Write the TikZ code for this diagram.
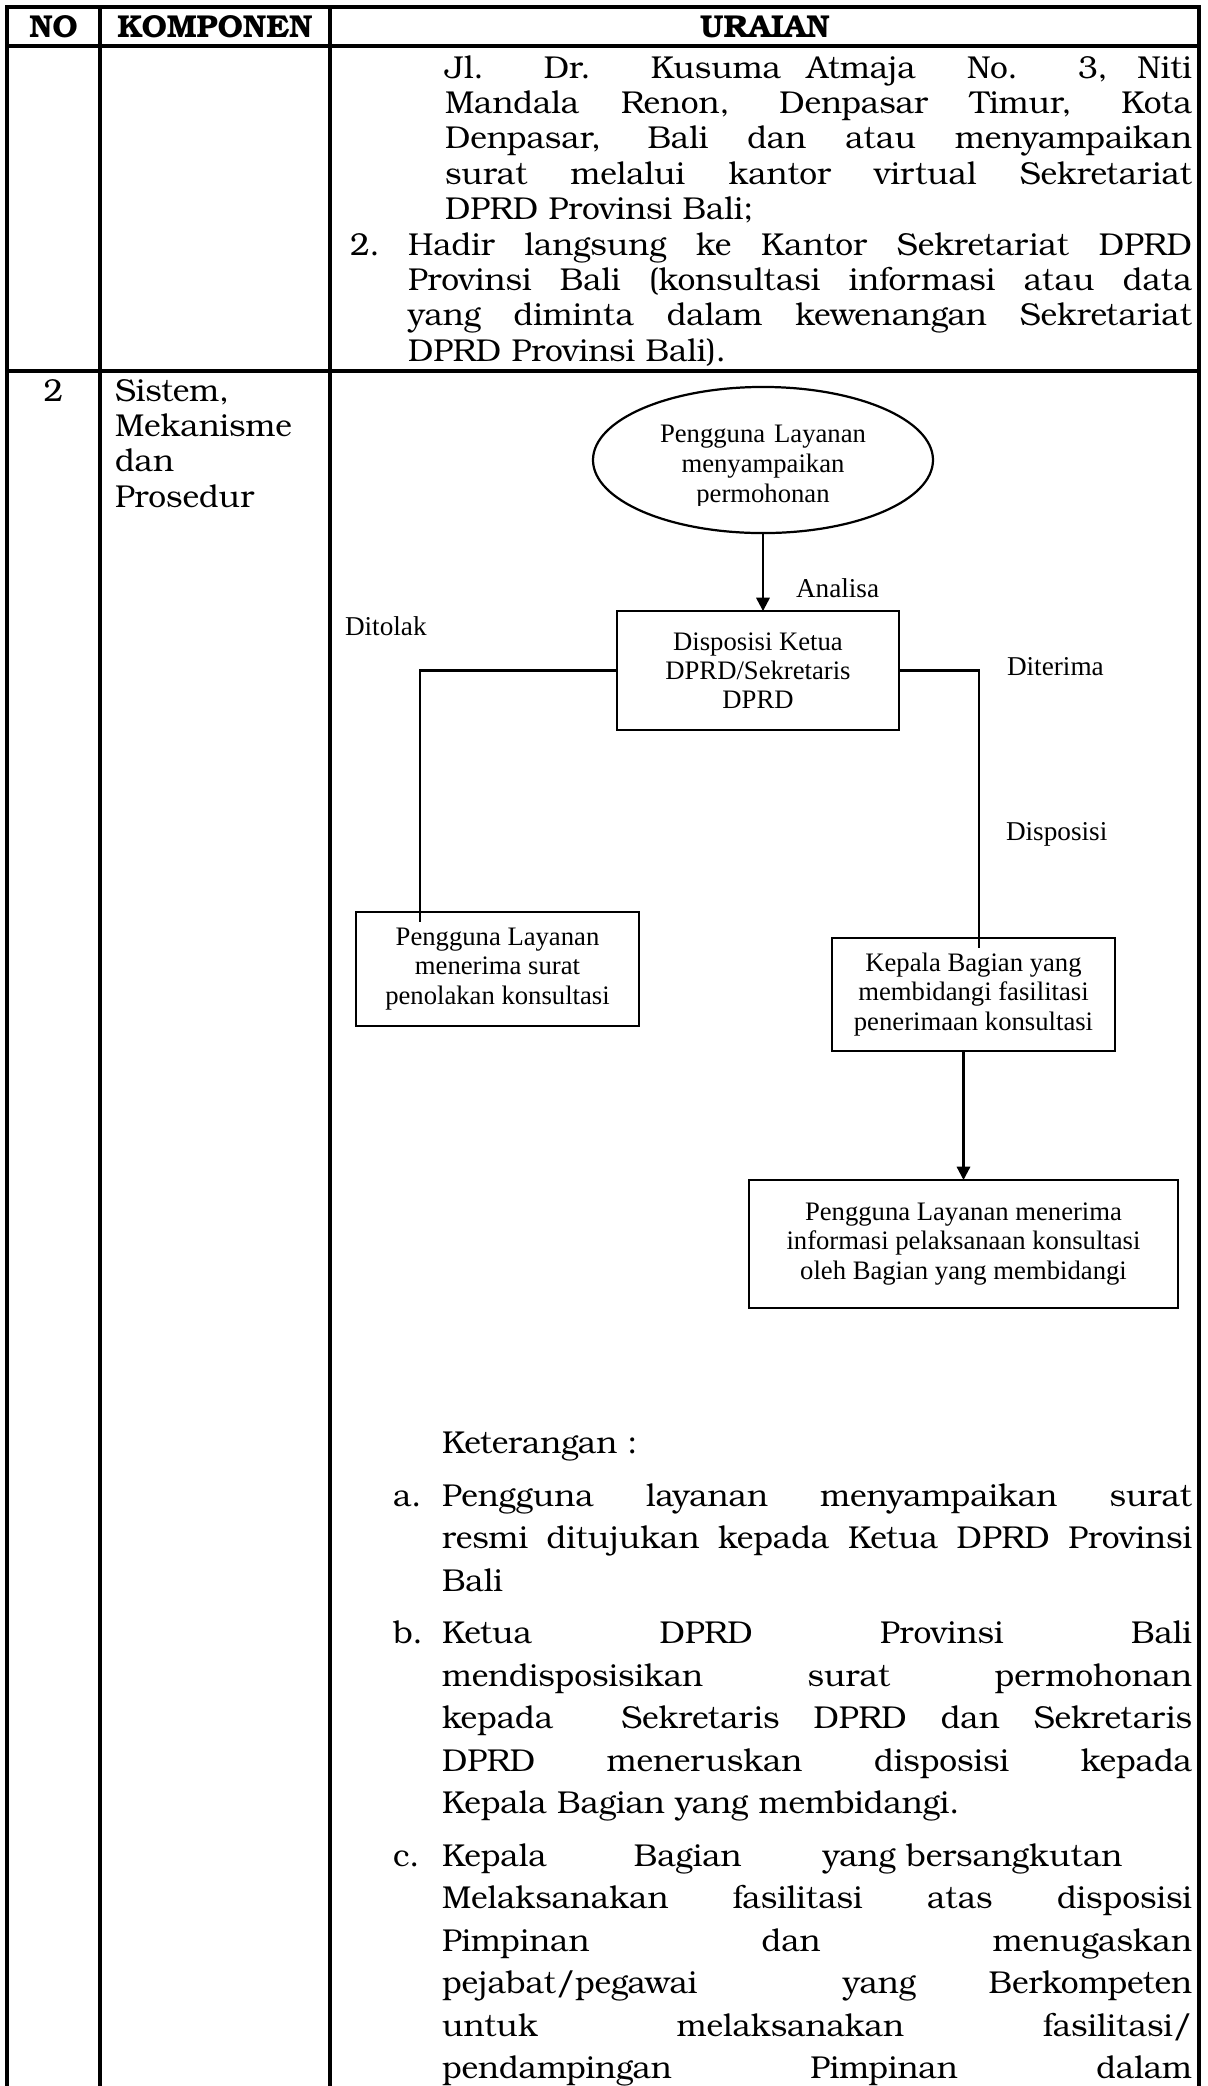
\documentclass[tikz,border=0pt]{standalone}
\usepackage{fontspec}
\setmainfont{TeX Gyre Bonum}
\newfontfamily\timesfont{Liberation Serif}
\usetikzlibrary{shapes.geometric,arrows.meta}
\newcommand{\justline}[1]{\makebox[\hsize][s]{\spaceskip=0pt\xspaceskip=0pt #1}}

\begin{document}
\begin{tikzpicture}[x=0.36pt,y=-0.36pt]
    \tikzstyle{every node}=[inner sep=0pt, outer sep=0pt]
    \tikzstyle{tbl}=[line width=1.1pt]
    \tikzstyle{head}=[anchor=base, font=\fontsize{11.4}{12.74}\bfseries]
    \tikzstyle{body}=[anchor=base west, align=left, font=\fontsize{11.4}{12.74}\selectfont]
    \tikzstyle{ket}=[anchor=base west, align=left, font=\fontsize{11.4}{15.3}\selectfont]
    \tikzstyle{flow}=[align=center, font=\timesfont\fontsize{9.6}{10.5}\selectfont]
    \tikzstyle{box}=[flow, draw, line width=0.8pt]
    \tikzstyle{lbl}=[anchor=base west, font=\timesfont\fontsize{9.8}{10.5}\selectfont]
    \tikzstyle{line}=[line width=0.8pt]
    \tikzstyle{arr}=[line width=0.8pt, -{Triangle[length=4.8pt,width=4.8pt]}]

    \useasboundingbox (0,0) rectangle (1207,2086);

    \draw[tbl] (7,2086) -- (7,7) -- (1199,7) -- (1199,2086);
    \draw[tbl] (100,7) -- (100,2086);
    \draw[tbl] (330,7) -- (330,2086);
    \draw[tbl] (7,46) -- (1199,46);
    \draw[tbl] (7,371) -- (1199,371);

    \node[head] (no) at (53.5,37) {NO};
    \node[head] (komp) at (215,37) {KOMPONEN};
    \node[head] (uraian) at (765,37) {URAIAN};

    \node[body, text width=268.9pt] (alamat) at (445,78) {\justline{Jl. Dr. Kusuma Atmaja\ \ No. 3, Niti}\\
        \justline{Mandala Renon, Denpasar Timur, Kota}\\
        \justline{Denpasar, Bali dan atau menyampaikan}\\
        \justline{surat melalui kantor virtual Sekretariat}\\
        DPRD Provinsi Bali;};
    \node[body] (n2) at (350,255) {2.};
    \node[body, text width=282.2pt] (hadir) at (408,255) {\justline{Hadir langsung ke Kantor Sekretariat DPRD}\\
        \justline{Provinsi Bali (konsultasi informasi atau data}\\
        \justline{yang diminta dalam kewenangan Sekretariat}\\
        DPRD Provinsi Bali).};

    \node[body, anchor=base] (no2) at (53.5,401) {2};
    \node[body, text width=80pt] (komp2) at (115,401) {Sistem,\\Mekanisme\\dan\\Prosedur};

    \node[box, ellipse, minimum width=122.4pt, minimum height=52.6pt] (mohon) at (763,460) {};
    \begin{scope}
        \clip (590,380) rectangle (940,505);
        \node[flow, anchor=base, text width=110pt, font=\timesfont\fontsize{9.6}{10.8}\selectfont] (mohontxt) at (763,442) {Pengguna Layanan\\menyampaikan\\permohonan};
    \end{scope}
    \node[box, minimum width=101.5pt, minimum height=42.8pt] (disp) at (758,670.5) {Disposisi Ketua\\DPRD/Sekretaris\\DPRD};
    \node[box, minimum width=101.9pt, minimum height=41pt] (tolak) at (497.5,969) {Pengguna Layanan\\menerima surat\\penolakan konsultasi};
    \node[box, minimum width=101.9pt, minimum height=40.7pt] (kabag) at (973.5,994.5) {Kepala Bagian yang\\membidangi fasilitasi\\penerimaan konsultasi};
    \node[box, minimum width=154.4pt, minimum height=46.1pt] (info) at (963.5,1244) {Pengguna Layanan menerima\\informasi pelaksanaan konsultasi\\oleh Bagian yang membidangi};

    \node[lbl] (analisa) at (796,597) {Analisa};
    \node[lbl] (ditolak) at (345,635) {Ditolak};
    \node[lbl] (diterima) at (1007,675) {Diterima};
    \node[lbl] (disposisi) at (1006,840) {Disposisi};

    \coordinate (tolakend) at (420,922);
    \coordinate (terimaend) at (979,948);

    \draw[arr] (mohon.south) -- (mohon.south |- disp.north);
    \draw[line] (disp.west) -| (tolakend);
    \draw[line] (disp.east) -| (terimaend);
    \draw[arr] (kabag.south -| info.north) -- (info.north);

    \node[ket] (ket) at (442,1453) {Keterangan :};
    \node[ket] (la) at (393,1506) {a.};
    \node[ket, text width=270pt] (ka) at (442,1506) {\justline{Pengguna layanan menyampaikan surat}\\
        \justline{resmi ditujukan kepada Ketua DPRD Provinsi}\\
        Bali};
    \node[ket] (lb) at (393,1643.5) {b.};
    \node[ket, text width=270pt] (kb) at (442,1643.5) {\justline{Ketua DPRD Provinsi Bali}\\
        \justline{mendisposisikan surat permohonan}\\
        \justline{kepada\ \ Sekretaris DPRD dan Sekretaris}\\
        \justline{DPRD meneruskan disposisi kepada}\\
        Kepala Bagian yang membidangi.};
    \node[ket] (lc) at (393,1866) {c.};
    \node[ket, text width=270pt] (kc) at (442,1866) {\makebox[69.1pt][l]{Kepala}\makebox[68pt][l]{Bagian}yang bersangkutan\\
        \justline{Melaksanakan fasilitasi atas disposisi}\\
        \justline{Pimpinan dan menugaskan}\\
        \justline{pejabat/pegawai\ \ yang Berkompeten}\\
        \justline{untuk melaksanakan fasilitasi/}\\
        \justline{pendampingan Pimpinan dalam}};
\end{tikzpicture}
\end{document}
